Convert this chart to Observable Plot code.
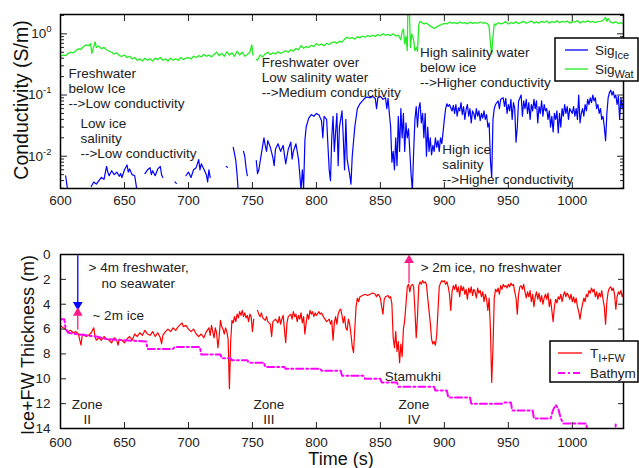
<!DOCTYPE html>
<html>
<head>
<meta charset="utf-8">
<script src="https://cdn.jsdelivr.net/npm/d3@7"></script>
<script src="https://cdn.jsdelivr.net/npm/@observablehq/plot@0.6"></script>
<style>
  html, body { margin: 0; padding: 0; background: #fff; }
  #wrap { position: relative; width: 639px; height: 468px; background: #fff; font-family: "Liberation Sans", Arial, Helvetica, sans-serif; color: #222; overflow: hidden; }
  .panel { position: absolute; left: 0; }
  .title { position: absolute; white-space: nowrap; transform: translate(-50%, -50%); font-size: 18px; color: #111; }
  .vtitle { transform: translate(-50%, -50%) rotate(-90deg); }
  .legend { position: absolute; }
</style>
</head>
<body>
<div id="wrap">
  <div id="top" class="panel" style="top:0"></div>
  <div id="bot" class="panel" style="top:230px"></div>
  <div class="title vtitle" style="left:21px; top:100px; font-size:19.5px">Conductivity (S/m)</div>
  <div class="title vtitle" style="left:28px; top:345px">Ice+FW Thickness (m)</div>
  <div class="title" style="left:341px; top:459px">Time (s)</div>
  <svg id="legTop" class="legend" style="left:554px; top:37px" width="85" height="46"></svg>
  <svg id="legBot" class="legend" style="left:549px; top:340px" width="90" height="44"></svg>
</div>
<script>
// ---------------- data ----------------
const timeTicks = [600, 650, 700, 750, 800, 850, 900, 950, 1000];
const condMajorTicks = [0.01, 0.1, 1];
const condMajorLabels = ["10^-2", "10^-1", "10^0"];
const condMinorTicks = [0.003, 0.004, 0.005, 0.006, 0.007, 0.008, 0.009, 0.02, 0.03, 0.04, 0.05, 0.06, 0.07, 0.08, 0.09, 0.2, 0.3, 0.4, 0.5, 0.6, 0.7, 0.8, 0.9, 2];
const thickTicks = [0, 2, 4, 6, 8, 10, 12, 14];

// Sig_Wat [time s, conductivity S/m]
const sigWat = [[600,0.43],[602,0.45],[604,0.44],[606,0.48],[608,0.5],[610,0.49],[612,0.53],[614,0.57],[616,0.56],[618,0.62],[620,0.66],[622,0.64],[623.5,0.69],[624.5,0.48],[626,0.62],[627,0.74],[628,0.6],[630,0.63],[632,0.57],[634,0.6],[636,0.55],[638,0.52],[640,0.5],[642,0.47],[644,0.49],[646,0.44],[648,0.43],[650,0.45],[652,0.41],[654,0.43],[656,0.39],[658,0.41],[660,0.37],[662,0.39],[664,0.36],[666,0.4],[668,0.37],[670,0.39],[672,0.36],[674,0.4],[676,0.38],[678,0.41],[680,0.37],[682,0.39],[684,0.36],[686,0.4],[688,0.37],[690,0.39],[692,0.37],[694,0.41],[696,0.38],[698,0.4],[700,0.41],[702,0.39],[704,0.43],[706,0.41],[708,0.44],[710,0.42],[712,0.46],[714,0.43],[716,0.45],[718,0.42],[720,0.46],[722,0.5],[724,0.44],[726,0.48],[728,0.43],[730,0.51],[732,0.45],[734,0.49],[736,0.43],[738,0.52],[740,0.45],[742,0.5],[744,0.43],[746,0.46],[748,0.5],[749.5,0.66],[750.5,0.45],[751.5,null],[753,0.38],[754,0.37],[756,0.45],[758,0.42],[760,0.47],[762,0.5],[764,0.46],[766,0.49],[768,0.47],[770,0.51],[772,0.48],[774,0.5],[776,0.53],[778,0.5],[780,0.55],[782,0.52],[784,0.58],[786,0.55],[788,0.64],[790,0.58],[792,0.62],[794,0.6],[796,0.65],[798,0.62],[800,0.69],[802,0.65],[804,0.68],[806,0.64],[808,0.7],[810,0.67],[812,0.72],[814,0.74],[816,0.7],[818,0.76],[820,0.73],[822,0.82],[824,0.88],[826,0.84],[828,0.87],[830,0.82],[832,0.9],[834,0.86],[836,0.92],[838,0.88],[840,0.94],[842,0.9],[844,0.95],[846,0.91],[848,0.97],[850,0.93],[852,1.0],[854,0.95],[856,0.98],[858,0.94],[860,1.0],[862,0.92],[864,0.95],[866,0.8],[867,1.1],[868,1.2],[869,0.69],[870,0.9],[871,0.53],[871.5,3],[872.5,3],[873.5,0.6],[874.5,1.0],[876,0.8],[877,0.53],[878,0.6],[879,0.52],[880,1.4],[881,1.6],[882,1.55],[884,1.45],[886,1.5],[888,1.38],[890,1.3],[892,1.22],[894,1.3],[896,1.37],[898,1.42],[900,1.48],[902,1.45],[904,1.55],[906,1.5],[908,1.53],[910,1.47],[912,1.55],[914,1.5],[916,1.52],[918,1.46],[920,1.55],[922,1.48],[924,1.53],[926,1.5],[928,1.56],[930,1.49],[932,1.52],[934,1.45],[935,1.3],[936,0.7],[937,0.47],[938,0.9],[939,1.45],[940,1.4],[942,1.52],[944,1.46],[946,1.5],[948,1.58],[950,1.45],[952,1.53],[954,1.48],[956,1.57],[958,1.47],[960,1.54],[962,1.6],[964,1.49],[966,1.55],[968,1.62],[970,1.5],[972,1.57],[974,1.5],[976,1.6],[978,1.53],[980,1.62],[982,1.5],[984,1.58],[986,1.54],[988,1.63],[990,1.52],[992,1.6],[994,1.55],[996,1.62],[998,1.5],[1000,1.58],[1002,1.55],[1004,1.65],[1006,1.5],[1008,1.6],[1010,1.55],[1012,1.63],[1014,1.55],[1016,1.6],[1018,1.52],[1020,1.58],[1022,1.6],[1024,1.66],[1026,1.85],[1027,1.6],[1028,1.78],[1030,1.55],[1032,1.5],[1034,1.58],[1036,1.47],[1038,1.52],[1040,1.45]];

// Sig_Ice [time s, conductivity S/m]; null = no data
const sigIce = [[603,null],[604,0.0048],[605,0.0034],[606,0.0025],[607,null],
[624,0.0032],[626,0.0038],[628,0.0035],[630,0.004],[632,0.0045],[634,0.0042],[636,0.0068],[637,0.0055],[638,0.0048],[640,0.0058],[642,0.005],[644,0.0055],[646,0.0047],[647,0.0052],[648,0.0045],[650,0.006],[652,0.0072],[653,0.0055],[654,0.0062],[656,0.005],[658,0.0048],[659,0.0035],[660,0.0025],[661,null],
[666,0.0052],[668,0.006],[670,0.0065],[671,0.005],[672,0.0058],[674,0.0048],[676,0.0062],[678,0.0068],[679,0.005],[680,0.0045],[681,null],
[689.5,0.0038],[690.5,0.0036],[691,null],
[698,0.0048],[700,0.0055],[702,0.0045],[704,0.006],[706,0.0065],[708,0.0088],[709,0.006],[710,0.0075],[712,0.0062],[714,0.005],[715,0.0038],[716,0.006],[717,0.0045],[718,null],
[729.5,0.0068],[730.5,0.0066],[731,null],
[735,0.014],[736,0.011],[737,0.0085],[738,0.005],[739,0.0025],[740,null],
[743,0.012],[744,0.01],[745,0.0065],[746,0.0048],[747,null],
[753,0.0085],[754,0.0052],[755,0.006],[757,0.011],[759,0.02],[760,0.015],[761,0.012],[762,0.018],[764,0.014],[766,0.0095],[767,0.007],[768,0.013],[770,0.016],[772,0.012],[774,0.015],[776,0.0075],[778,0.013],[780,0.017],[781,0.009],[782,0.012],[784,0.016],[786,0.009],[787,0.005],[788,0.0028],[789,0.006],[790,0.003],[791,0.018],[792,0.03],[794,0.042],[796,0.048],[798,0.045],[800,0.05],[802,0.047],[804,0.038],[805,0.02],[806,0.045],[808,0.04],[809,0.015],[810,0.006],[811,0.004],[812,0.02],[813,0.045],[814,0.012],[816,0.05],[817,0.007],[818,0.03],[820,0.055],[821,0.02],[822,0.006],[823,0.04],[824,0.009],[826,0.005],[827,0.0035],[828,0.01],[830,0.03],[832,0.06],[834,0.072],[836,0.08],[838,0.09],[840,0.093],[842,0.09],[844,0.095],[846,0.088],[847,0.06],[848,0.09],[850,0.095],[852,0.085],[854,0.09],[855,0.06],[856,0.088],[857,0.05],[858,0.03],[859,0.008],[860,0.012],[861,0.006],[862,0.02],[863,0.007],[864,0.045],[865,0.012],[866,0.06],[867,0.02],[868,0.05],[869,0.012],[870,0.035],[871,0.02],[872,0.028],[873,0.012],[874,0.005],[875,0.0028],[876,0.012],[877,0.04],[878,0.065],[879,0.03],[880,0.06],[881,0.075],[882,0.035],[883,0.05],[884,0.02],[885,0.05],[886,0.01],[887,0.03],[888,0.012],[889,0.02],[890,0.0105],[891,0.015],[892,0.012],[893,0.02],[894,0.014],[895,0.018],[896,0.012],[897,0.02],[898,0.016],[899,0.025],[900,0.04],[901,0.06],[902,0.072],[903,0.065],[904,0.07],[906,0.055],[907,0.068],[908,0.05],[909,0.07],[910,0.045],[911,0.062],[912,0.055],[913,0.075],[914,0.048],[915,0.065],[916,0.04],[917,0.058],[918,0.07],[919,0.045],[920,0.06],[921,0.035],[922,0.055],[923,0.05],[924,0.04],[925,0.06],[926,0.045],[927,0.055],[928,0.038],[929,0.05],[930,0.042],[931,0.055],[932,0.04],[933,0.048],[934,0.03],[935,0.035],[936,0.0085],[937,0.0045],[938,0.04],[939,0.06],[940,0.07],[942,0.08],[943,0.06],[944,0.085],[946,0.09],[947,0.065],[948,0.088],[949,0.05],[950,0.07],[951,0.055],[952,0.085],[953,0.04],[954,0.075],[955,0.06],[956,0.017],[957,0.03],[958,0.08],[960,0.1],[961,0.045],[962,0.08],[963,0.06],[964,0.085],[965,0.05],[966,0.075],[967,0.04],[968,0.07],[969,0.055],[970,0.085],[971,0.06],[972,0.08],[973,0.035],[974,0.065],[975,0.05],[976,0.08],[977,0.045],[978,0.07],[979,0.055],[980,0.06],[981,0.04],[982,0.055],[983,0.03],[984,0.045],[985,0.025],[986,0.05],[987,0.04],[988,0.055],[989,0.024],[990,0.05],[991,0.03],[992,0.06],[993,0.045],[994,0.07],[995,0.05],[996,0.065],[997,0.04],[998,0.06],[1000,0.05],[1001,0.065],[1002,0.045],[1003,0.06],[1004,0.04],[1005,0.1],[1006,0.035],[1007,0.05],[1008,0.06],[1009,0.045],[1010,0.07],[1011,0.055],[1012,0.085],[1013,0.07],[1014,0.09],[1015,0.075],[1016,0.1],[1017,0.08],[1018,0.09],[1019,0.06],[1020,0.07],[1021,0.05],[1022,0.06],[1023,0.04],[1024,0.045],[1025,0.03],[1026,0.018],[1027,0.05],[1028,0.09],[1029,0.11],[1030,0.12],[1031,0.1],[1032,0.115],[1033,0.09],[1034,0.1],[1035,0.07],[1036,0.095],[1037,0.04],[1038,0.09],[1039,0.06],[1040,0.085]];

// T_I+FW [time s, thickness m]
const thickIceFw = [[600,5.7],[602,5.9],[604,6.0],[606,6.2],[608,6.1],[610,6.3],[612,6.2],[614,6.4],[616,7.3],[617,6.5],[618,6.4],[620,6.6],[622,6.5],[624,6.3],[626,5.9],[627,6.6],[628,6.9],[630,6.7],[632,6.9],[634,6.6],[636,6.8],[638,6.9],[640,7.1],[642,6.7],[644,6.9],[645,7.3],[646,6.8],[648,6.9],[650,7.1],[652,6.8],[654,6.6],[656,6.9],[658,6.4],[660,6.6],[662,6.3],[664,6.5],[666,6.1],[668,6.4],[670,6.5],[672,6.2],[674,6.6],[676,6.3],[678,6.7],[679,7.2],[680,6.5],[682,6.2],[684,6.0],[686,6.2],[688,5.9],[690,6.1],[692,5.8],[694,5.6],[695,5.5],[696,5.8],[698,5.7],[700,6.0],[702,6.2],[704,6.0],[706,6.4],[708,6.6],[710,6.4],[712,6.7],[714,6.2],[716,5.9],[717,6.5],[718,5.7],[720,6.7],[721,5.9],[722,6.3],[723,7.5],[724,6.6],[725,5.3],[726,5.8],[727,6.0],[728,6.4],[729,5.9],[730,6.2],[731,6.8],[732,10.8],[733,7.0],[734,5.3],[735,5.5],[736,5.0],[737,5.4],[738,4.8],[739,5.1],[740,4.6],[741,4.9],[742,4.5],[743,5.0],[744,4.7],[745,5.1],[746,4.9],[747,5.4],[748,4.8],[749,5.0],[750,6.2],[751,5.2],[752,null],[754,4.5],[755,4.8],[756,5.0],[757,4.7],[758,5.1],[760,5.3],[761,5.0],[762,5.4],[764,5.6],[765,6.6],[766,5.4],[768,5.2],[770,5.5],[771,5.0],[772,5.6],[773,5.2],[774,4.9],[775,6.0],[776,7.1],[777,5.5],[778,5.0],[780,4.8],[781,5.2],[782,4.6],[783,5.0],[784,4.8],[785,5.4],[786,4.9],[787,5.2],[788,4.7],[789,5.5],[790,5.0],[791,6.4],[792,5.5],[793,4.8],[794,5.2],[795,4.5],[796,4.8],[797,4.6],[798,5.0],[799,4.7],[800,4.9],[802,4.6],[803,4.8],[804,4.7],[806,5.1],[808,5.4],[810,5.2],[811,5.6],[812,5.3],[813,6.9],[814,5.5],[815,5.0],[816,5.6],[817,4.8],[818,4.5],[819,4.4],[820,4.9],[821,5.5],[822,5.0],[823,5.9],[824,6.1],[825,5.2],[826,5.6],[827,6.4],[828,7.4],[829,7.9],[830,6.0],[831,4.2],[832,3.5],[833,3.8],[834,3.4],[836,3.3],[838,3.2],[840,3.3],[842,3.2],[844,3.1],[846,3.2],[847,3.4],[848,3.2],[849,3.3],[850,3.5],[851,4.2],[852,4.8],[853,3.6],[854,3.4],[856,3.3],[857,3.5],[858,3.4],[859,4.0],[860,6.7],[861,7.5],[862,6.2],[863,7.8],[864,7.0],[865,8.7],[866,7.2],[867,8.2],[868,6.0],[869,5.3],[870,4.0],[871,2.6],[872,2.4],[873,3.0],[874,2.5],[875,2.4],[876,2.6],[877,4.5],[878,6.7],[879,5.0],[880,2.5],[881,2.2],[882,2.4],[883,2.1],[884,2.3],[885,2.2],[886,2.4],[887,3.5],[888,4.5],[889,5.5],[890,6.8],[891,7.2],[892,7.0],[893,7.3],[894,6.5],[895,4.5],[896,2.6],[897,2.3],[898,2.1],[899,2.2],[900,2.1],[901,2.4],[902,2.2],[903,2.6],[904,3.2],[905,4.5],[906,3.0],[907,2.5],[908,2.8],[909,2.4],[910,3.0],[911,2.6],[912,3.4],[913,2.5],[914,2.9],[915,2.6],[916,3.2],[917,2.8],[918,3.6],[919,2.7],[920,3.1],[921,2.6],[922,3.3],[923,2.8],[924,3.0],[925,3.5],[926,2.7],[927,3.1],[928,2.9],[929,3.4],[930,3.0],[931,3.8],[932,3.2],[933,3.6],[934,4.5],[935,3.5],[936,6.0],[937,10.3],[938,7.5],[939,3.5],[940,2.8],[941,3.0],[942,2.7],[943,3.2],[944,2.5],[945,2.8],[946,2.4],[947,2.6],[948,2.5],[949,2.7],[950,2.4],[951,2.6],[952,2.3],[953,2.5],[954,2.4],[955,3.0],[956,3.5],[957,4.8],[958,3.2],[959,2.6],[960,2.5],[961,2.8],[962,2.4],[963,3.0],[964,3.5],[965,3.0],[966,3.4],[967,2.9],[968,3.8],[969,3.2],[970,4.2],[971,3.4],[972,3.0],[973,3.6],[974,3.1],[975,3.8],[976,3.3],[977,4.0],[978,3.5],[979,3.2],[980,3.6],[981,3.1],[982,4.2],[983,3.6],[984,4.5],[985,5.4],[986,4.2],[987,3.6],[988,3.9],[989,3.4],[990,3.6],[991,3.2],[992,3.8],[993,3.3],[994,3.0],[995,3.4],[996,3.1],[997,3.3],[998,3.6],[999,3.2],[1000,3.8],[1001,3.4],[1002,3.9],[1003,3.5],[1004,4.2],[1005,4.6],[1006,5.2],[1007,4.5],[1008,4.0],[1009,3.5],[1010,3.8],[1011,3.2],[1012,3.4],[1013,2.9],[1014,3.1],[1015,2.7],[1016,3.0],[1017,2.8],[1018,3.4],[1019,3.0],[1020,3.6],[1021,3.1],[1022,3.4],[1023,2.9],[1024,3.6],[1025,4.2],[1026,5.6],[1027,3.8],[1028,3.0],[1029,2.7],[1030,2.6],[1031,2.9],[1032,2.7],[1033,3.2],[1034,4.4],[1035,3.4],[1036,3.0],[1037,3.2],[1038,2.9],[1039,3.4],[1040,3.1]];

// Bathym [time s, depth m]
const bathym = [[600,5.2],[603,5.2],[604,6.0],[606,6.3],[612,6.4],[620,6.5],[628,6.6],[636,6.8],[650,6.9],[667,7.0],[668,7.6],[688,7.6],[689,7.45],[709,7.45],[710,8.05],[725,8.05],[726,8.35],[733,8.35],[734,8.5],[746,8.5],[747,8.7],[759,8.7],[760,9.05],[775,9.05],[776,9.2],[803,9.2],[804,9.35],[819,9.35],[820,9.75],[837,9.75],[838,10.0],[850,10.0],[851,10.3],[863,10.3],[864,10.65],[892,10.65],[893,10.95],[902,10.95],[903,11.5],[920,11.5],[921,12.0],[946,12.0],[947,11.9],[952,11.9],[953,12.55],[969,12.55],[970,13.2],[983,13.2],[985,12.5],[987,12.1],[989,12.4],[991,13.2],[993,13.6],[1011,13.6],[1012,14.5],[1033.5,14.5],[1034,13.5],[1034.5,13.5]];

// annotations
const topNotes = [
  {t: 606.3, v: 0.129, label: "Freshwater\nbelow Ice\n-->Low conductivity"},
  {t: 615.6, v: 0.0197, label: "Low ice\nsalinity\n-->Low conductivity"},
  {t: 757.2, v: 0.195, label: "Freshwater over\nLow salinity water\n-->Medium conductivity"},
  {t: 880.9, v: 0.285, label: "High salinity water\nbelow ice\n-->Higher conductivity"},
  {t: 898.4, v: 0.0075, label: "High ice\nsalinity\n-->Higher conductivity"}
];
const botNotes = [
  {t: 621.9, d: 1.07, label: "> 4m freshwater,", anchor: "start"},
  {t: 632.1, d: 2.31, label: "no seawater", anchor: "start"},
  {t: 625.0, d: 4.92, label: "~ 2m ice", anchor: "start"},
  {t: 881.5, d: 1.07, label: "> 2m ice, no freshwater", anchor: "start"},
  {t: 875.4, d: 9.75, label: "Stamukhi", anchor: "middle"},
  {t: 620.9, d: 12.62, label: "Zone\nII", anchor: "middle"},
  {t: 762.9, d: 12.62, label: "Zone\nIII", anchor: "middle"},
  {t: 876.2, d: 12.62, label: "Zone\nIV", anchor: "middle"}
];
const arrows = [
  {t: 613.5, from: 0.1, to: 4.05, color: "#0000ff"},
  {t: 613.5, from: 6.07, to: 4.7, color: "#ff1a8c"},
  {t: 872.4, from: 2.36, to: 0.45, color: "#ff1a8c"}
];
const legendTop = [
  {name: "Sig", sub: "Ice", color: "#0000ff", dash: null, width: 1.3},
  {name: "Sig", sub: "Wat", color: "#22ee22", dash: null, width: 1.3}
];
const legendBot = [
  {name: "T", sub: "I+FW", color: "#ff0000", dash: null, width: 1.3},
  {name: "Bathym", sub: "", color: "#ff00ff", dash: "7,3,2,3", width: 2}
];

// ---------------- chart ----------------
const FONT = '"Liberation Sans", Arial, Helvetica, sans-serif';
const toObj = (arr, key) => arr.map(([t, v]) => ({t, [key]: v}));
const plainInt = (d) => String(d);

const topChart = Plot.plot({
  width: 639, height: 210,
  marginLeft: 60, marginRight: 16, marginTop: 14, marginBottom: 22,
  x: {domain: [600, 1040]},
  y: {type: "log", domain: [0.00297, 2.07]},
  style: {fontFamily: FONT, fontSize: "13.5px", color: "#222", background: "transparent", overflow: "visible"},
  marks: [
    Plot.line(toObj(sigWat, "v"), {x: "t", y: "v", stroke: "#22ee22", strokeWidth: 1.3, clip: true}),
    Plot.line(toObj(sigIce, "v"), {x: "t", y: "v", stroke: "#0000ff", strokeWidth: 1.2, clip: true}),
    Plot.text(topNotes, {x: "t", y: "v", text: "label", textAnchor: "start", lineAnchor: "middle", lineHeight: 1.13, fontSize: 13.5, fill: "#222"}),
    Plot.axisX({anchor: "bottom", ticks: timeTicks, tickSize: -6, tickPadding: 13, label: null, fontSize: 13.5, tickFormat: plainInt}),
    Plot.axisX({anchor: "top", ticks: timeTicks, tickSize: -6, tickFormat: () => "", label: null}),
    Plot.axisY({anchor: "left", ticks: condMajorTicks, tickSize: -7, tickPadding: 16, label: null, fontSize: 13.5,
      tickFormat: (d) => condMajorLabels[condMajorTicks.indexOf(d)]}),
    Plot.axisY({anchor: "left", ticks: condMinorTicks, tickSize: -4, tickFormat: () => "", label: null}),
    Plot.axisY({anchor: "right", ticks: condMajorTicks, tickSize: -7, tickFormat: () => "", label: null}),
    Plot.axisY({anchor: "right", ticks: condMinorTicks, tickSize: -4, tickFormat: () => "", label: null}),
    Plot.frame({stroke: "#000", strokeWidth: 1.5})
  ]
});

// superscript exponents on log tick labels
topChart.querySelectorAll("text").forEach((el) => {
  const s = el.textContent;
  const m = /^10\^(-?\d+)$/.exec(s);
  if (!m) return;
  const tspans = el.querySelectorAll("tspan");
  const target = tspans.length ? tspans[0] : el;
  target.textContent = "";
  const ns = "http://www.w3.org/2000/svg";
  const base = document.createElementNS(ns, "tspan");
  base.textContent = "10";
  const sup = document.createElementNS(ns, "tspan");
  sup.textContent = m[1];
  sup.setAttribute("font-size", "9.5");
  sup.setAttribute("dy", "-6");
  target.appendChild(base);
  target.appendChild(sup);
});
document.getElementById("top").appendChild(topChart);

const botChart = Plot.plot({
  width: 639, height: 238,
  marginLeft: 60, marginRight: 16, marginTop: 24, marginBottom: 40,
  x: {domain: [600, 1040]},
  y: {domain: [0, 14], reverse: true},
  color: {type: "identity"},
  style: {fontFamily: FONT, fontSize: "13.5px", color: "#222", background: "transparent", overflow: "visible"},
  marks: [
    Plot.line(toObj(thickIceFw, "d"), {x: "t", y: "d", stroke: "#ff0000", strokeWidth: 1.2, clip: true}),
    Plot.line(toObj(bathym, "d"), {x: "t", y: "d", stroke: "#ff00ff", strokeWidth: 2, strokeDasharray: "7,3,2,3", clip: true}),
    Plot.ruleX(arrows, {x: "t", y1: "from", y2: "to", stroke: "color", strokeWidth: 1.3}),
    Plot.dot(arrows, {x: "t", y: "to", symbol: "triangle", r: 3.6, fill: "color", stroke: null,
      rotate: (d) => (d.to > d.from ? 180 : 0)}),
    Plot.text(botNotes.filter((d) => d.anchor === "start"), {x: "t", y: "d", text: "label", textAnchor: "start", lineAnchor: "middle", fontSize: 13.5, fill: "#222"}),
    Plot.text(botNotes.filter((d) => d.anchor === "middle"), {x: "t", y: "d", text: "label", textAnchor: "middle", lineAnchor: "middle", lineHeight: 1.15, fontSize: 13.5, fill: "#222"}),
    Plot.axisX({anchor: "bottom", ticks: timeTicks, tickSize: -6, tickPadding: 15, label: null, fontSize: 13.5, tickFormat: plainInt}),
    Plot.axisY({anchor: "left", ticks: thickTicks, tickSize: -6, tickPadding: 16, label: null, fontSize: 13.5, tickFormat: plainInt}),
    Plot.axisY({anchor: "right", ticks: thickTicks, tickSize: -6, tickFormat: () => "", label: null}),
    Plot.frame({stroke: "#000", strokeWidth: 1.5})
  ]
});
document.getElementById("bot").appendChild(botChart);

// ---------------- legends ----------------
function drawLegend(id, items, w, h, lineX0, lineX1, textX, rowY) {
  const svg = d3.select("#" + id);
  svg.append("rect").attr("x", 1).attr("y", 1).attr("width", w).attr("height", h)
    .attr("fill", "#fff").attr("stroke", "#000").attr("stroke-width", 1.5);
  items.forEach((it, i) => {
    const y = rowY[i];
    svg.append("line").attr("x1", lineX0).attr("x2", lineX1).attr("y1", y).attr("y2", y)
      .attr("stroke", it.color).attr("stroke-width", it.width).attr("stroke-dasharray", it.dash);
    const t = svg.append("text").attr("x", textX).attr("y", y + 5)
      .attr("font-family", FONT).attr("font-size", 13.5).attr("fill", "#222");
    t.append("tspan").text(it.name);
    if (it.sub) t.append("tspan").attr("font-size", 11).attr("dy", 4).text(it.sub);
  });
}
drawLegend("legTop", legendTop, 83, 43, 11, 34, 41, [13, 32]);
drawLegend("legBot", legendBot, 88, 41, 9, 33, 41, [13, 33]);
</script>
</body>
</html>
